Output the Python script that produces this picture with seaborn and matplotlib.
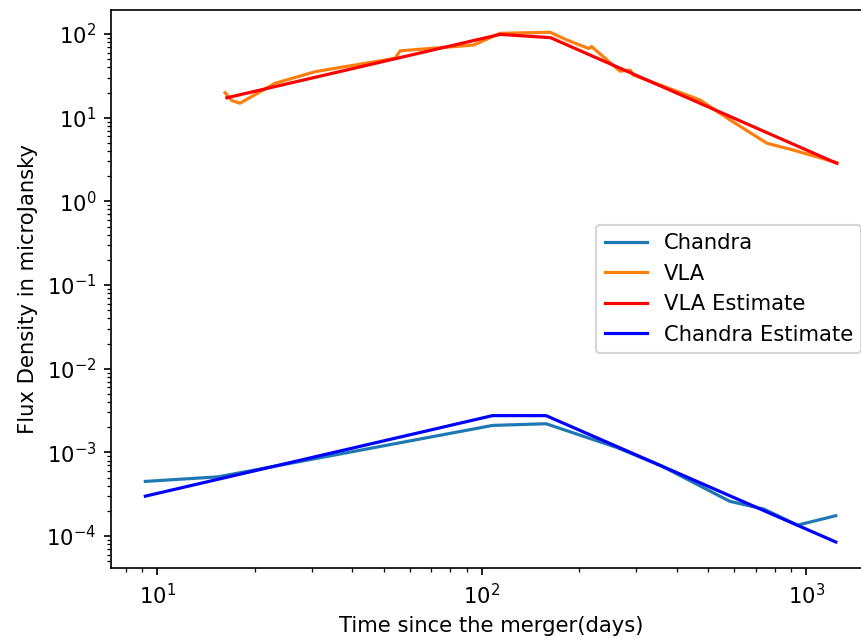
import matplotlib
matplotlib.use("Agg")
import matplotlib.pyplot as plt
import seaborn as sns

# Chandra X-ray light curve
chandra_days = [9.2, 15.4, 108, 158, 260, 358, 582, 741, 940, 1234]
chandra_flux = [4.5e-4, 5.1e-4, 2.1e-3, 2.2e-3, 1.15e-3, 6.9e-4, 2.6e-4, 2.1e-4, 1.35e-4, 1.75e-4]

# VLA radio light curve
vla_days = [16.2, 17.0, 18.0, 23.1, 30.7, 54.1, 56.1, 94.5, 114, 162.5, 183,
            214, 218, 267, 287, 293, 383, 471, 583, 757, 914, 1243]
vla_flux = [19.9, 16.0, 14.9, 25.8, 35.5, 51.3, 63, 73.9, 102, 105, 85,
            67, 71, 36, 37, 32.4, 22, 16.3, 9.4, 4.95, 4.1, 2.9]

# model estimates
vla_est_days = [16.4, 114, 163, 1243]
vla_est_flux = [17.3, 99, 90.5, 2.85]
chandra_est_days = [9.2, 108, 158, 1234]
chandra_est_flux = [3.0e-4, 2.75e-3, 2.75e-3, 8.5e-5]

dpi = 152
fig = plt.figure(figsize=(861 / dpi, 643 / dpi), dpi=dpi)
ax = fig.add_axes([0.1289, 0.1166, 0.8839, 0.8678])

sns.lineplot(x=chandra_days, y=chandra_flux, ax=ax, label='Chandra', color='C0')
sns.lineplot(x=vla_days, y=vla_flux, ax=ax, label='VLA', color='C1', sort=False)
sns.lineplot(x=vla_est_days, y=vla_est_flux, ax=ax, label='VLA Estimate', color='red')
sns.lineplot(x=chandra_est_days, y=chandra_est_flux, ax=ax, label='Chandra Estimate', color='blue')

ax.set_xscale('log')
ax.set_yscale('log')
ax.set_xlim(7.21, 1596)
ax.set_ylim(4.15e-5, 193.6)
ax.set_xlabel('Time since the merger(days)')
ax.set_ylabel('Flux Density in microJansky')
ax.legend(loc='center right')

fig.savefig('out.png', dpi=dpi)
